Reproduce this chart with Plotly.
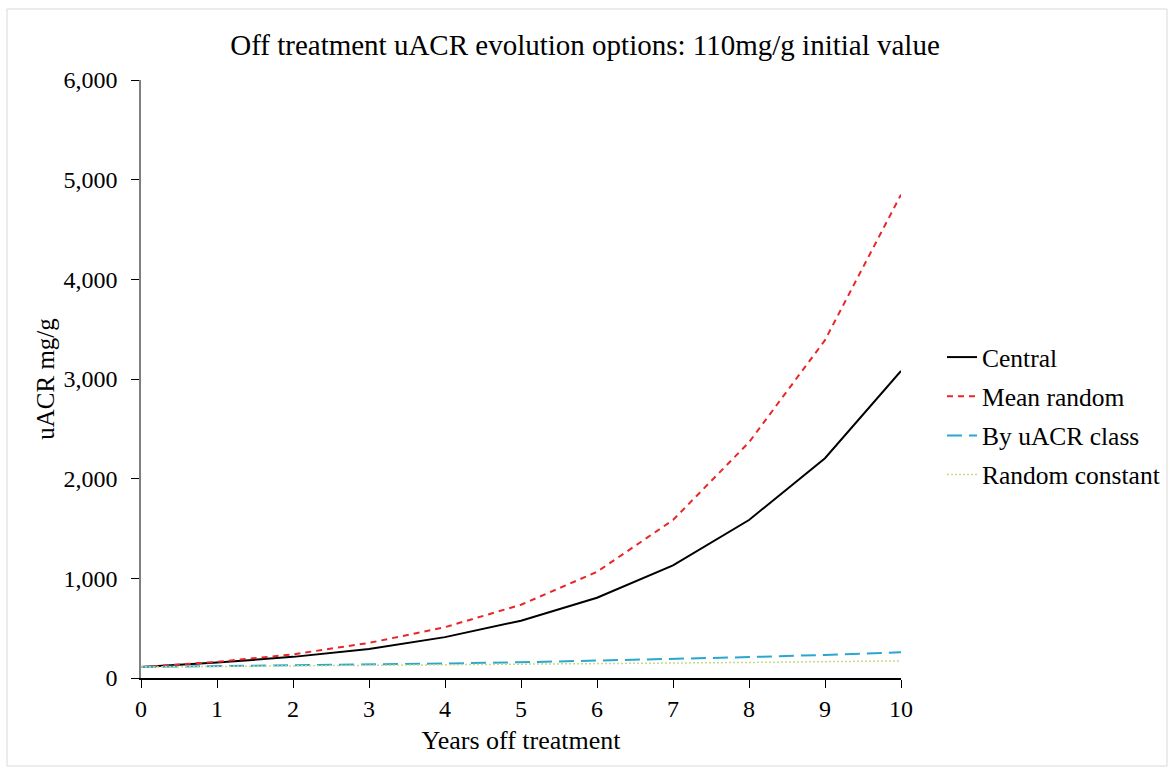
import plotly.graph_objects as go

years = [0, 1, 2, 3, 4, 5, 6, 7, 8, 9, 10]
central = [110, 155, 212, 292, 410, 575, 805, 1130, 1585, 2205, 3080]
mean_random = [110, 162, 237, 352, 510, 735, 1065, 1585, 2365, 3390, 4850]
by_class = [110, 118, 126, 134, 145, 158, 173, 190, 210, 232, 258]
random_constant = [110, 115, 120, 125, 130, 136, 142, 149, 156, 164, 172]

font_family = "Liberation Serif, Times New Roman, serif"

fig = go.Figure()
series = [
    ("Central", central, dict(color="#000000", width=2, dash="solid")),
    ("Mean random", mean_random, dict(color="#E8262A", width=2, dash="6px,5px")),
    ("By uACR class", by_class, dict(color="#2AA7CF", width=2, dash="15px,7px")),
    ("Random constant", random_constant, dict(color="#C5DA8A", width=1.5, dash="2px,2px")),
]
for i, (name, vals, line) in enumerate(series):
    fig.add_trace(go.Scatter(x=years, y=vals, mode="lines", name=name, line=line,
                             legendgroup=f"g{i}"))

L, R, T, B = 141, 269, 80, 91
W, H = 1170, 769
pw, ph = W - L - R, H - T - B

fig.update_layout(
    width=W, height=H,
    margin=dict(l=L, r=R, t=T, b=B, autoexpand=False),
    paper_bgcolor="white", plot_bgcolor="white",
    font=dict(family=font_family, color="#000000", size=24),
    title=dict(text="Off treatment uACR evolution options: 110mg/g initial value",
               x=0.5, xanchor="center", y=1 - 45 / H, yanchor="middle",
               font=dict(size=29)),
    showlegend=True,
    legend=dict(x=(942 - L) / pw, xanchor="left", y=(678 - 416) / ph, yanchor="middle",
                font=dict(size=25.5), tracegroupgap=3, bgcolor="rgba(0,0,0,0)"),
    xaxis=dict(range=[0, 10], tickmode="array", tickvals=years,
               showgrid=False, zeroline=False, showline=True, linecolor="#000000",
               linewidth=1.5, ticks="outside", ticklen=8, tickcolor="#000000",
               tickfont=dict(size=24),
               title=dict(text="Years off treatment", font=dict(size=26), standoff=10)),
    yaxis=dict(range=[0, 6000], tickvals=[0, 1000, 2000, 3000, 4000, 5000, 6000],
               tickformat=",d", ticklabelstandoff=9,
               showgrid=False, zeroline=False, showline=True, linecolor="#808080",
               linewidth=1.5, ticks="outside", ticklen=8, tickcolor="#000000",
               tickfont=dict(size=24),
               title=dict(text="uACR mg/g", font=dict(size=25), standoff=2)),
)

# light frame around the whole chart
fig.add_shape(type="rect", xref="paper", yref="paper",
              x0=(7 - L) / pw, x1=(1167 - L) / pw,
              y0=(H - B - 766) / ph, y1=(H - B - 9) / ph,
              line=dict(color="#D9D9D9", width=1), fillcolor="rgba(0,0,0,0)", layer="below")

fig.write_html("out.html")
